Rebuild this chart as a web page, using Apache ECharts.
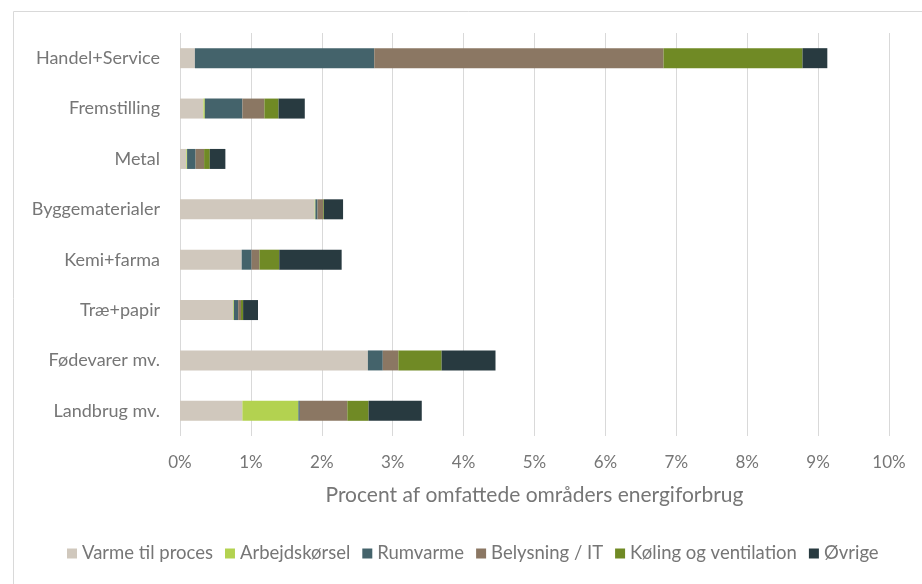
<!DOCTYPE html>
<html>
<head>
<meta charset="utf-8">
<script src="https://cdn.jsdelivr.net/npm/echarts@6/dist/echarts.min.js"></script>
<style>
  html, body { margin: 0; padding: 0; background: #fff; }
  #chart { width: 922px; height: 584px; }
</style>
</head>
<body>
<div id="chart"></div>
<script>
// Sectors, top to bottom
const categories = ['Handel+Service', 'Fremstilling', 'Metal', 'Byggematerialer', 'Kemi+farma', 'Træ+papir', 'Fødevarer mv.', 'Landbrug mv.'];

// Share of energy use (%) per end use
const varmeTilProces      = [0.21, 0.33, 0.09, 1.90, 0.87, 0.75, 2.65, 0.88];
const arbejdskoersel      = [0.00, 0.02, 0.01, 0.01, 0.00, 0.01, 0.00, 0.79];
const rumvarme            = [2.53, 0.53, 0.12, 0.03, 0.14, 0.06, 0.21, 0.02];
const belysningIT         = [4.08, 0.31, 0.12, 0.08, 0.11, 0.04, 0.22, 0.67];
const koelingVentilation  = [1.96, 0.20, 0.08, 0.01, 0.28, 0.03, 0.61, 0.30];
const oevrige             = [0.35, 0.37, 0.22, 0.27, 0.88, 0.21, 0.76, 0.75];

const seriesNames = ['Varme til proces', 'Arbejdskørsel', 'Rumvarme', 'Belysning / IT', 'Køling og ventilation', 'Øvrige'];
const seriesData = [varmeTilProces, arbejdskoersel, rumvarme, belysningIT, koelingVentilation, oevrige];
const seriesColors = ['#d0c8bd', '#b3d250', '#44636b', '#8b7763', '#708a25', '#283a40'];

const axisTicks = [0, 1, 2, 3, 4, 5, 6, 7, 8, 9, 10];

const textColor = '#767676';
const fontFamily = 'Lato, "Open Sans", sans-serif';

const chart = echarts.init(document.getElementById('chart'));
chart.setOption({
  animation: false,
  textStyle: { fontFamily: fontFamily },
  graphic: [{
    type: 'rect',
    left: 11, top: 9,
    shape: { width: 1000, height: 1000 },
    style: { fill: 'none', stroke: '#d9d9d9', lineWidth: 1 },
    silent: true
  }],
  grid: { left: 180, right: 33, top: 33, bottom: 148, containLabel: false },
  xAxis: {
    type: 'value',
    min: axisTicks[0],
    max: axisTicks[axisTicks.length - 1],
    interval: 1,
    axisLine: { show: false },
    axisTick: { show: false },
    splitLine: { lineStyle: { color: '#d9d9d9', width: 1 } },
    axisLabel: { formatter: '{value}%', color: textColor, fontSize: 17, margin: 18, fontFamily: fontFamily },
    name: 'Procent af omfattede områders energiforbrug',
    nameLocation: 'middle',
    nameGap: 49,
    nameTextStyle: { color: textColor, fontSize: 21, fontFamily: fontFamily }
  },
  yAxis: {
    type: 'category',
    data: categories,
    inverse: true,
    axisLine: { show: false },
    axisTick: { show: false },
    axisLabel: { color: textColor, fontSize: 18, margin: 20, fontFamily: fontFamily }
  },
  legend: {
    bottom: 16,
    left: 62,
    itemWidth: 10,
    itemHeight: 10,
    itemGap: 12,
    icon: 'rect',
    textStyle: { color: textColor, fontSize: 18.5, fontFamily: fontFamily },
    data: seriesNames
  },
  series: seriesNames.map((name, i) => ({
    name: name,
    type: 'bar',
    stack: 'total',
    barWidth: 20,
    data: seriesData[i],
    itemStyle: { color: seriesColors[i] },
    emphasis: { disabled: true }
  }))
});
</script>
</body>
</html>
